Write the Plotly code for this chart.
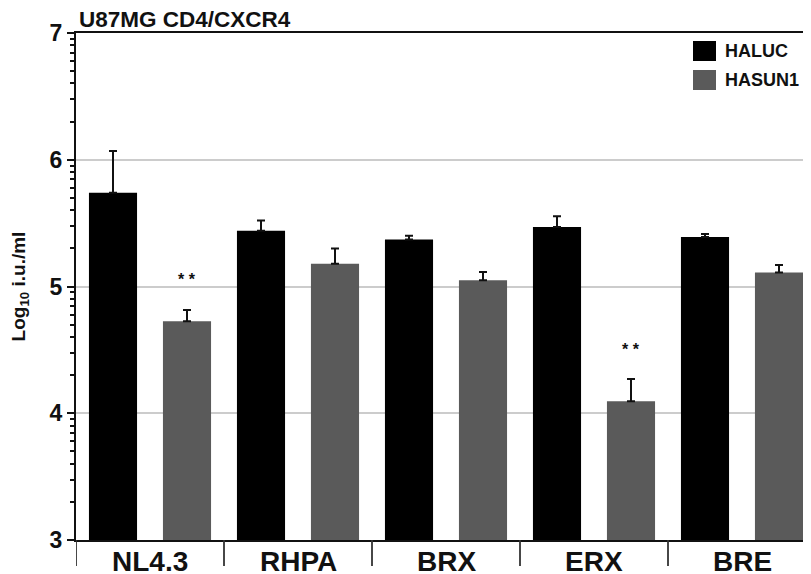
import math
import plotly.graph_objects as go

# ---- data ----
categories = ["NL4.3", "RHPA", "BRX", "ERX", "BRE"]
series_names = ["HALUC", "HASUN1"]
haluc = [5.74, 5.44, 5.37, 5.47, 5.39]
haluc_err = [0.33, 0.08, 0.03, 0.085, 0.025]
hasun1 = [4.725, 5.18, 5.05, 4.095, 5.11]
hasun1_err = [0.09, 0.12, 0.065, 0.175, 0.06]
hasun1_significant = [True, False, False, True, False]
y_ticks = [3, 4, 5, 6, 7]
title_text = "U87MG CD4/CXCR4"
y_title = "Log<sub>10</sub> i.u./ml"

# ---- style ----
colors = ["#000000", "#5a5a5a"]
FONT = "Liberation Sans, Arial, sans-serif"
OFF = 8  # page body offset
W, H = 811 - OFF, 574 - OFF
ML, MR, MT, MB = 76 - OFF, 0, 33 - OFF, 574 - 540
PW, PH = W - ML - MR, H - MT - MB
CAT_PX = 148

fig = go.Figure()
for name, vals, errs, col in [(series_names[0], haluc, haluc_err, colors[0]),
                              (series_names[1], hasun1, hasun1_err, colors[1])]:
    fig.add_trace(go.Bar(
        x=categories, y=vals, name=name, marker=dict(color=col, line=dict(width=0)),
        error_y=dict(type="data", array=errs, arrayminus=[0] * len(errs), symmetric=False,
                     color="#111111", thickness=2, width=4),
        showlegend=False,
    ))

# significance stars
for i, (c, v, e, s) in enumerate(zip(categories, hasun1, hasun1_err, hasun1_significant)):
    if s:
        fig.add_annotation(x=c, y=v + e + 0.26, xref="x", yref="y", text="* *",
                           showarrow=False, xshift=37, yshift=-3,
                           font=dict(family=FONT, size=16, color="#111111", weight="bold"))

# category labels
for c in categories:
    fig.add_annotation(x=c, y=0, xref="x", yref="paper", text=c, showarrow=False,
                       yanchor="top", yshift=-4,
                       font=dict(family=FONT, size=28, color="#111111", weight="bold"))

# category dividers
for i in range(len(categories)):
    fig.add_shape(type="line", xref="x", yref="paper", x0=i - 0.5, x1=i - 0.5,
                  y0=0, y1=-26 / PH, line=dict(color="#333333", width=1.8))

# custom legend (positions in screen px)
def px2paper(px, py):
    return (px - OFF - ML) / PW, (540 - py) / PH

for k, (name, col) in enumerate(zip(series_names, colors)):
    top = 41 + 29 * k
    x0, y0 = px2paper(693, top)
    x1, y1 = px2paper(716, top + 20)
    fig.add_shape(type="rect", xref="paper", yref="paper", x0=x0, x1=x1, y0=y1, y1=y0,
                  fillcolor=col, line=dict(width=0))
    tx, ty = px2paper(723, top + 10)
    fig.add_annotation(x=tx, y=ty, xref="paper", yref="paper", text=name, showarrow=False,
                       xanchor="left", yanchor="middle",
                       font=dict(family=FONT, size=18, color="#111111", weight="bold"))

minor_vals = [d + math.log10(k) for d in y_ticks[:-1] for k in range(2, 10)]

fig.update_layout(
    width=W, height=H,
    margin=dict(l=ML, r=MR, t=MT, b=MB, autoexpand=False),
    paper_bgcolor="white", plot_bgcolor="white",
    barmode="group", bargap=0, bargroupgap=0.35,
    font=dict(family=FONT, color="#111111"),
    title=dict(text=title_text, x=(79 - OFF) / W, xanchor="left", y=1 - (19 - OFF) / H,
               yanchor="middle",
               font=dict(family=FONT, size=22.5, color="#111111", weight="bold")),
    xaxis=dict(type="category", range=[-0.5, -0.5 + PW / CAT_PX], showline=True, mirror=True,
               linecolor="#111111", linewidth=2, ticks="", showgrid=False,
               showticklabels=False, automargin=False),
    yaxis=dict(range=[3, 7], tickvals=y_ticks, ticks="outside", ticklen=7, tickwidth=2,
               tickcolor="#111111", showline=True, linecolor="#111111", linewidth=2,
               showgrid=True, gridcolor="#cccccc", gridwidth=1.5, zeroline=False,
               tickfont=dict(family=FONT, size=23, color="#111111", weight="bold"),
               minor=dict(tickmode="array", tickvals=minor_vals, ticks="outside",
                          ticklen=4, tickwidth=1.5, tickcolor="#111111", showgrid=False),
               title=dict(text=y_title, standoff=21,
                          font=dict(family=FONT, size=19, color="#111111", weight="bold")),
               automargin=False),
)

fig.write_html("out.html")
